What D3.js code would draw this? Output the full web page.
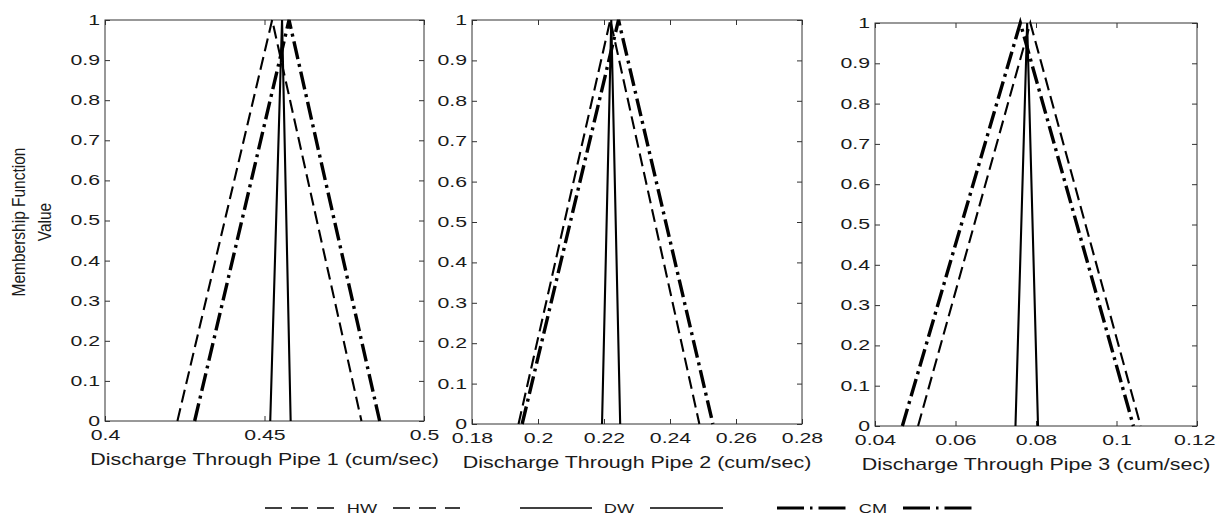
<!DOCTYPE html>
<html>
<head>
<meta charset="utf-8">
<script src="https://cdnjs.cloudflare.com/ajax/libs/d3/7.8.5/d3.min.js"></script>
<style>
  body { margin: 0; background: #fff; }
  svg { display: block; }
</style>
</head>
<body>
<div id="chart"></div>
<script>
// values
const xDomains = [[0.4, 0.5], [0.18, 0.28], [0.04, 0.12]];
const xTicks = [[0.4, 0.45, 0.5], [0.18, 0.2, 0.22, 0.24, 0.26, 0.28], [0.04, 0.06, 0.08, 0.1, 0.12]];
const xTitles = ["Discharge Through Pipe 1 (cum/sec)", "Discharge Through Pipe 2  (cum/sec)", "Discharge Through Pipe 3  (cum/sec)"];
const yTicks = [0, 0.1, 0.2, 0.3, 0.4, 0.5, 0.6, 0.7, 0.8, 0.9, 1];

// triangular membership functions: [left foot, peak, right foot]
const hwTri = [[0.4227, 0.4524, 0.4804], [0.1941, 0.2219, 0.2489], [0.0507, 0.0786, 0.1060]];
const dwTri = [[0.4518, 0.4555, 0.4582], [0.2194, 0.2222, 0.2249], [0.0749, 0.0778, 0.0805]];
const cmTri = [[0.4281, 0.4577, 0.4861], [0.1952, 0.2244, 0.2530], [0.0468, 0.0761, 0.1042]];
const seriesNames = ["HW", "DW", "CM"];

const W = 1216, H = 518;
const font = "'Liberation Sans', Arial, sans-serif";
const ink = "#1a1a1a";
const sx = 1.52; // text in the picture is stretched sideways

// panel boxes
const boxes = [
    {left: 105, right: 424, top: 20, bottom: 421},
    {left: 472, right: 802, top: 20, bottom: 424},
    {left: 875, right: 1197, top: 23, bottom: 426}
];

const styles = {
    HW: {dash: "13,6", width: 2.1},
    DW: {dash: null, width: 2.1},
    CM: {dash: "18,5,3,5", width: 3.4}
};

let svg = d3.select("#chart").append("svg")
    .attr("width", W)
    .attr("height", H);

boxes.forEach((b, i) => {
    let x = d3.scaleLinear().domain(xDomains[i]).range([b.left, b.right]);
    let y = d3.scaleLinear().domain([0, 1]).range([b.bottom, b.top]);
    let g = svg.append("g").attr("class", "panel" + (i + 1));

    // inward ticks on all four sides
    let fmt = d => String(d);
    let bottomAxis = g.append("g")
        .attr("transform", "translate(0," + b.bottom + ")")
        .call(d3.axisBottom(x).tickValues(xTicks[i]).tickSizeInner(-5).tickSizeOuter(0).tickPadding(10).tickFormat(fmt));
    let topAxis = g.append("g")
        .attr("transform", "translate(0," + b.top + ")")
        .call(d3.axisTop(x).tickValues(xTicks[i]).tickSizeInner(-5).tickSizeOuter(0).tickFormat(""));
    let leftAxis = g.append("g")
        .attr("transform", "translate(" + b.left + ",0)")
        .call(d3.axisLeft(y).tickValues(yTicks).tickSizeInner(-5).tickSizeOuter(0).tickPadding(5 / sx).tickFormat(fmt));
    let rightAxis = g.append("g")
        .attr("transform", "translate(" + b.right + ",0)")
        .call(d3.axisRight(y).tickValues(yTicks).tickSizeInner(-5).tickSizeOuter(0).tickFormat(""));

    [bottomAxis, topAxis, leftAxis, rightAxis].forEach(a => {
        a.select(".domain").remove();
        a.selectAll(".tick line").attr("stroke", "#333").attr("stroke-width", 1);
        a.selectAll("text")
            .attr("font-family", font)
            .attr("font-size", 14)
            .attr("fill", ink)
            .attr("transform", "scale(" + sx + ",1)");
    });
    bottomAxis.selectAll("text").attr("dy", "0.62em");

    // keep the last x label inside the picture
    bottomAxis.selectAll("text").each(function(d) {
        let half = this.getBBox().width * sx / 2;
        let over = x(d) + half - (W - 1);
        if (over > 0) d3.select(this).attr("x", -over / sx);
    });

    // box
    g.append("rect")
        .attr("x", b.left).attr("y", b.top)
        .attr("width", b.right - b.left).attr("height", b.bottom - b.top)
        .attr("fill", "none").attr("stroke", "#333").attr("stroke-width", 1);

    // x title
    g.append("text")
        .attr("transform", "translate(" + ((b.left + b.right) / 2) + "," + (b.bottom + 44) + ") scale(1.34,1)")
        .attr("text-anchor", "middle")
        .attr("font-family", font)
        .attr("font-size", 16)
        .attr("fill", ink)
        .text(xTitles[i]);

    // membership triangles
    let line = d3.line().x(d => x(d[0])).y(d => y(d[1]));
    let tris = {HW: hwTri[i], DW: dwTri[i], CM: cmTri[i]};
    seriesNames.forEach(name => {
        let t = tris[name];
        let pts = [[t[0], 0], [t[1], 1], [t[2], 0]];
        g.append("path")
            .datum(pts)
            .attr("d", line)
            .attr("fill", "none")
            .attr("stroke", "#000")
            .attr("stroke-width", styles[name].width)
            .attr("stroke-dasharray", styles[name].dash)
            .attr("stroke-linejoin", "miter");
    });
});

// y title
let yTitle = svg.append("text")
    .attr("transform", "translate(31,222) scale(1.15,1) rotate(-90)")
    .attr("text-anchor", "middle")
    .attr("font-family", font)
    .attr("font-size", 15.5)
    .attr("fill", ink);
yTitle.append("tspan").attr("x", 0).attr("dy", "-0.35em").text("Membership Function");
yTitle.append("tspan").attr("x", 0).attr("dy", "1.45em").text("Value");

// legend: line - label - line
const legendX = [[265, 338, 362, 393, 460], [520, 592, 619, 650, 723], [777, 850, 873, 903, 977]];
const legendY = 508;
let legend = svg.append("g").attr("class", "legend");
seriesNames.forEach((name, i) => {
    let p = legendX[i];
    let ls = {HW: {dash: "17,9", w: 1.5}, DW: {dash: null, w: 1.5}, CM: {dash: "27,6,2.5,6", w: 3}}[name];
    [[p[0], p[1]], [p[3], p[4]]].forEach(seg => {
        legend.append("line")
            .attr("x1", seg[0]).attr("x2", seg[1])
            .attr("y1", legendY).attr("y2", legendY)
            .attr("stroke", "#000")
            .attr("stroke-width", ls.w)
            .attr("stroke-dasharray", ls.dash);
    });
    legend.append("text")
        .attr("transform", "translate(" + p[2] + "," + legendY + ") scale(1.4,1)")
        .attr("text-anchor", "middle")
        .attr("dy", "0.36em")
        .attr("font-family", font)
        .attr("font-size", 13)
        .attr("fill", ink)
        .text(name);
});
</script>
</body>
</html>
